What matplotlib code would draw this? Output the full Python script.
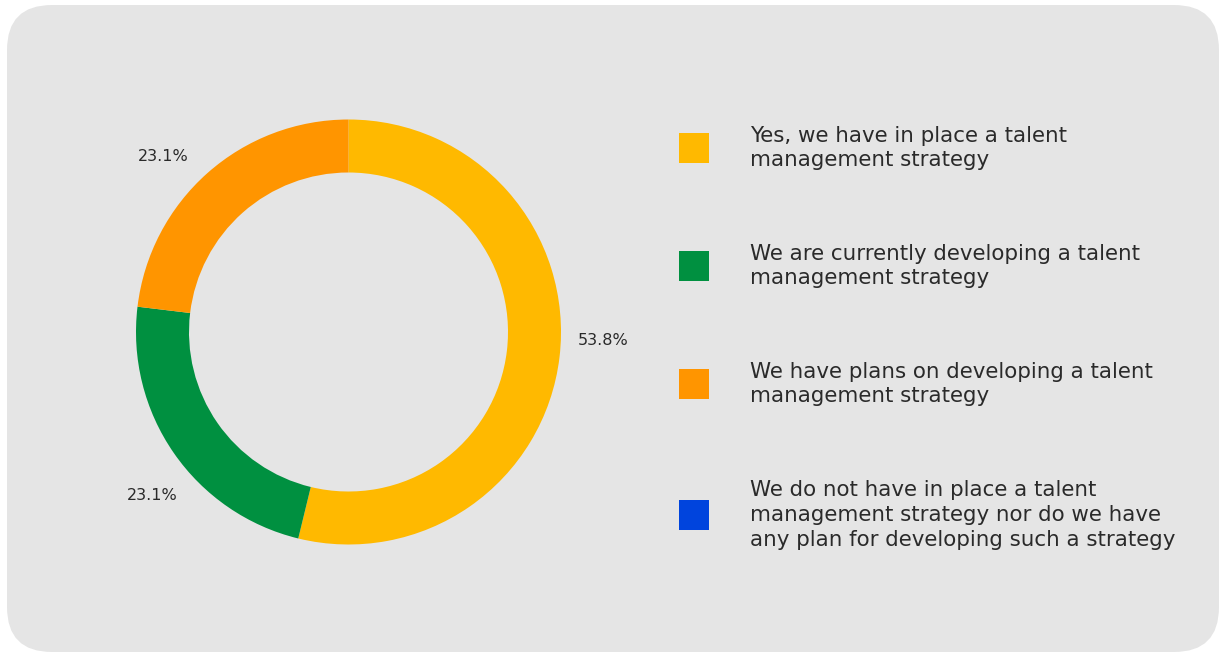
import numpy as np
import matplotlib.pyplot as plt
from matplotlib.patches import FancyBboxPatch, Rectangle

# data
categories = [
    "Yes, we have in place a talent\nmanagement strategy",
    "We are currently developing a talent\nmanagement strategy",
    "We have plans on developing a talent\nmanagement strategy",
    "We do not have in place a talent\nmanagement strategy nor do we have\nany plan for developing such a strategy",
]
shares = [53.8, 23.1, 23.1, 0.0]
colors = ["#FFB900", "#009040", "#FF9500", "#0044DD"]

W, H = 1219, 652
fig = plt.figure(figsize=(W / 100, H / 100), dpi=100)
fig.patch.set_facecolor("white")
ax = fig.add_axes([0, 0, 1, 1])
ax.set_xlim(0, W)
ax.set_ylim(0, H)
ax.set_aspect("equal")
ax.axis("off")

# rounded grey card
ax.add_patch(FancyBboxPatch((7, 0), W - 7, H - 5,
                            boxstyle="round,pad=0,rounding_size=45",
                            facecolor="#e5e5e5", edgecolor="none", zorder=0))

# donut
cx, cy, R, ring = 348.5, 320, 212.5, 53
wedges, _ = ax.pie(shares, colors=colors, startangle=90, counterclock=False,
                   center=(cx, cy), radius=R,
                   wedgeprops=dict(width=ring, edgecolor="none"))
ax.set_xlim(0, W)
ax.set_ylim(0, H)

txt_color = "#2a2a2a"
# outside percentage labels, centred a bit beyond the ring
label_r = 1.2 * R
label_rot = 5  # degrees, plotly-ish nudge
for w, v in zip(wedges, shares):
    if v <= 0:
        continue
    mid = np.deg2rad((w.theta1 + w.theta2) / 2 + label_rot)
    x = cx + label_r * np.cos(mid)
    y = cy + label_r * np.sin(mid)
    ax.text(x, y, f"{v:.1f}%", ha="center", va="center", fontsize=11.5, color=txt_color)

# legend (drawn by hand to mimic the spacing)
line_h = 26
gap = 66
y = H - 148 + line_h  # top of first entry
for lab, col in zip(categories, colors):
    n = lab.count("\n") + 1
    h = n * line_h
    yc = y - h / 2
    ax.add_patch(Rectangle((679, yc - 15), 30, 30, facecolor=col, edgecolor="none"))
    ax.text(750, yc, lab, ha="left", va="center", fontsize=15.4,
            color=txt_color, linespacing=1.29)
    y -= h + gap

fig.savefig("out.png", dpi=100)
